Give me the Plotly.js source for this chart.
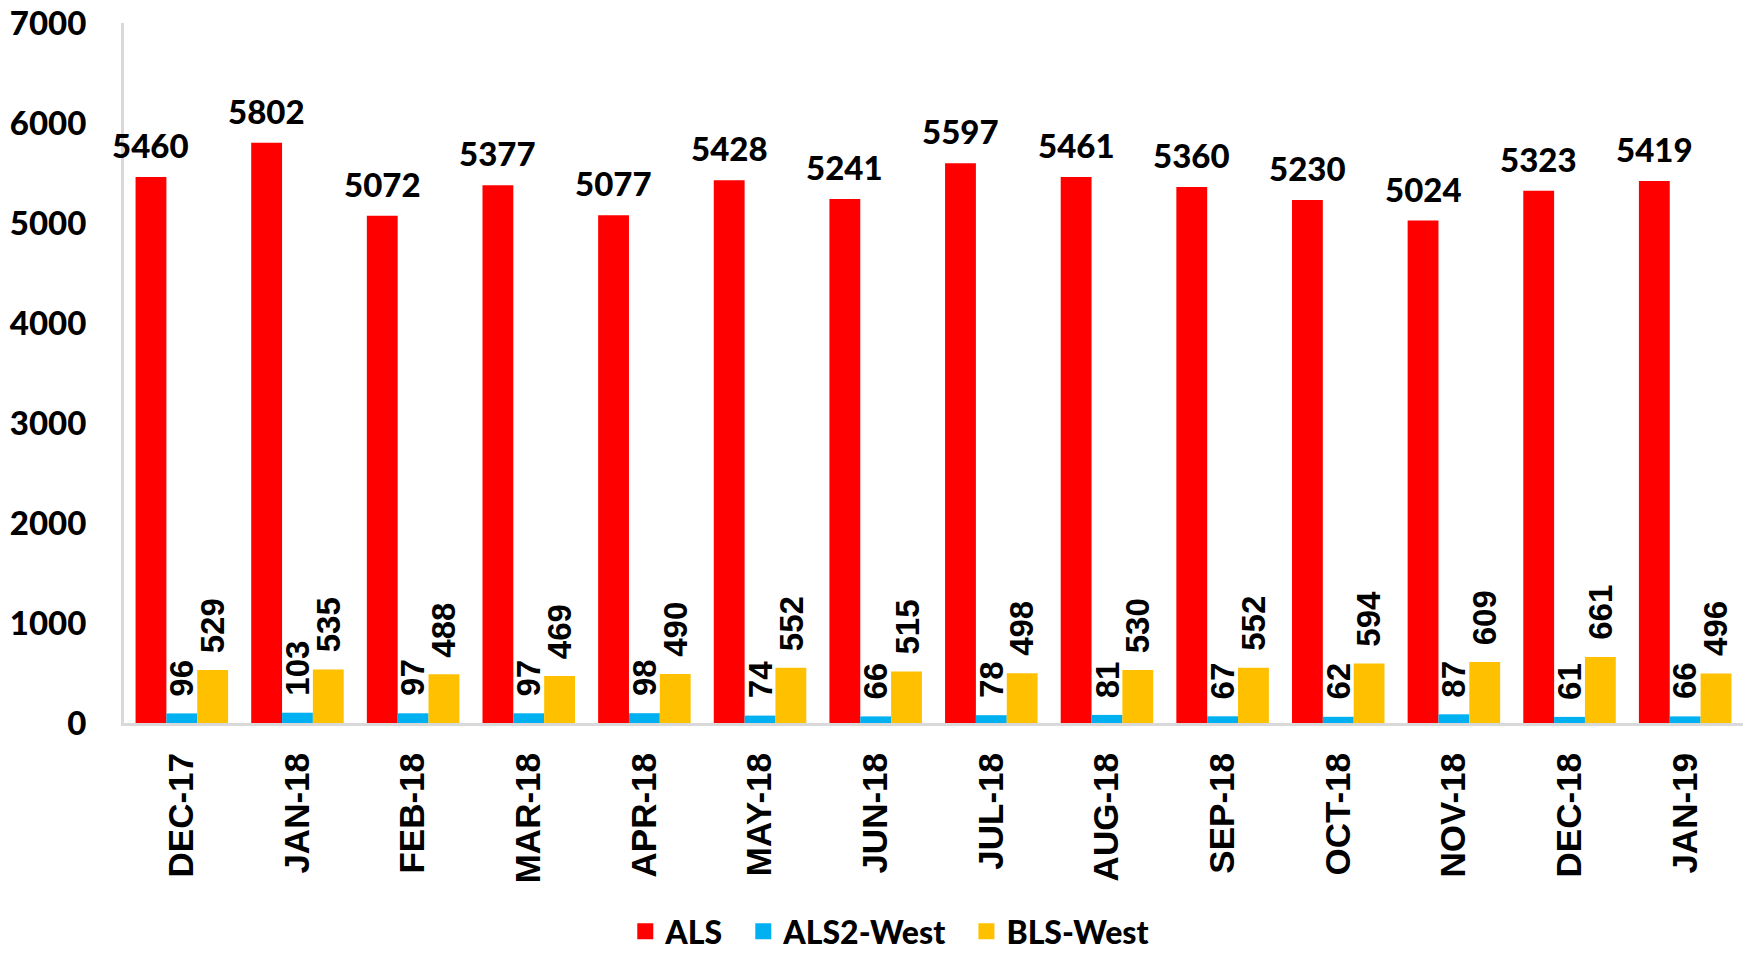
<!DOCTYPE html>
<html><head><meta charset="utf-8">
<script src="https://cdn.plot.ly/plotly-3.0.1.min.js"></script>
<style>html,body{margin:0;padding:0;background:#fff}#chart{width:1743px;height:956px}</style>
</head><body><div id="chart"></div>
<script>
const categories = ['DEC-17','JAN-18','FEB-18','MAR-18','APR-18','MAY-18','JUN-18','JUL-18','AUG-18','SEP-18','OCT-18','NOV-18','DEC-18','JAN-19'];
const als = [5460,5802,5072,5377,5077,5428,5241,5597,5461,5360,5230,5024,5323,5419];
const als2West = [96,103,97,97,98,74,66,78,81,67,62,87,61,66];
const blsWest = [529,535,488,469,490,552,515,498,530,552,594,609,661,496];
const seriesNames = ['ALS','ALS2-West','BLS-West'];
const seriesColors = ['#FF0000','#00B0F0','#FFC000'];
const yTicks = [0,1000,2000,3000,4000,5000,6000,7000];

const seriesData = [als, als2West, blsWest];
const bargap = 0.2;
const barW = (1 - bargap) / seriesData.length;

const traces = seriesData.map((vals, i) => ({
  type: 'bar', x: categories, y: vals, name: seriesNames[i],
  marker: {color: seriesColors[i]}, showlegend: false, hoverinfo: 'x+y+name'
}));
// legend entries
const legendPad = '\u00a0\u00a0';
seriesNames.forEach((n, i) => traces.push({
  type: 'scatter', mode: 'markers', x: [null], y: [null], name: n + (i < seriesNames.length - 1 ? legendPad : ''),
  marker: {symbol: 'square', size: 20, color: seriesColors[i]}, showlegend: true
}));

const annotations = [];
seriesData.forEach((vals, i) => {
  const off = (i - (seriesData.length - 1) / 2) * barW;
  vals.forEach((v, j) => {
    const rotated = i > 0;
    annotations.push({
      x: j + off, y: v, xref: 'x', yref: 'y', text: String(v), showarrow: false,
      xanchor: 'center', yanchor: 'bottom', textangle: rotated ? -90 : 0,
      yshift: rotated ? 15 : 10,
      font: rotated ? {family: 'Liberation Sans, Arial, sans-serif', size: 33, color: '#000', weight: 'bold'}
                    : {family: 'Lato, sans-serif', size: 33, color: '#000', weight: 900}
    });
  });
});

const layout = {
  width: 1743, height: 956,
  margin: {l: 124, r: 0, t: 23, b: 233, autoexpand: false},
  paper_bgcolor: '#fff', plot_bgcolor: '#fff',
  barmode: 'group', bargap: bargap, bargroupgap: 0,
  showlegend: true,
  legend: {orientation: 'h', x: 0.473, xanchor: 'center', y: -0.337, yanchor: 'bottom',
           font: {family: 'Lato, sans-serif', size: 32, color: '#000', weight: 900},
           itemwidth: 30, tracegroupgap: 0, borderwidth: 0},
  xaxis: {type: 'category', range: [-0.5, categories.length - 0.5], automargin: false,
          showgrid: false, zeroline: false, showline: true, linecolor: '#D9D9D9', linewidth: 3,
          ticks: '', tickangle: -90, ticklabelstandoff: 13,
          tickfont: {family: 'Liberation Sans, Arial, sans-serif', size: 35, color: '#000', weight: 'bold'}},
  yaxis: {range: [0, 7000], tickvals: yTicks, ticktext: yTicks.map(String), automargin: false,
          showgrid: false, zeroline: false,
          showline: true, linecolor: '#D9D9D9', linewidth: 3, ticks: '', ticklabelstandoff: 28,
          tickfont: {family: 'Lato, sans-serif', size: 33, color: '#000', weight: 900}},
  annotations: annotations
};
Plotly.newPlot('chart', traces, layout, {displayModeBar: false, staticPlot: true});
</script></body></html>
